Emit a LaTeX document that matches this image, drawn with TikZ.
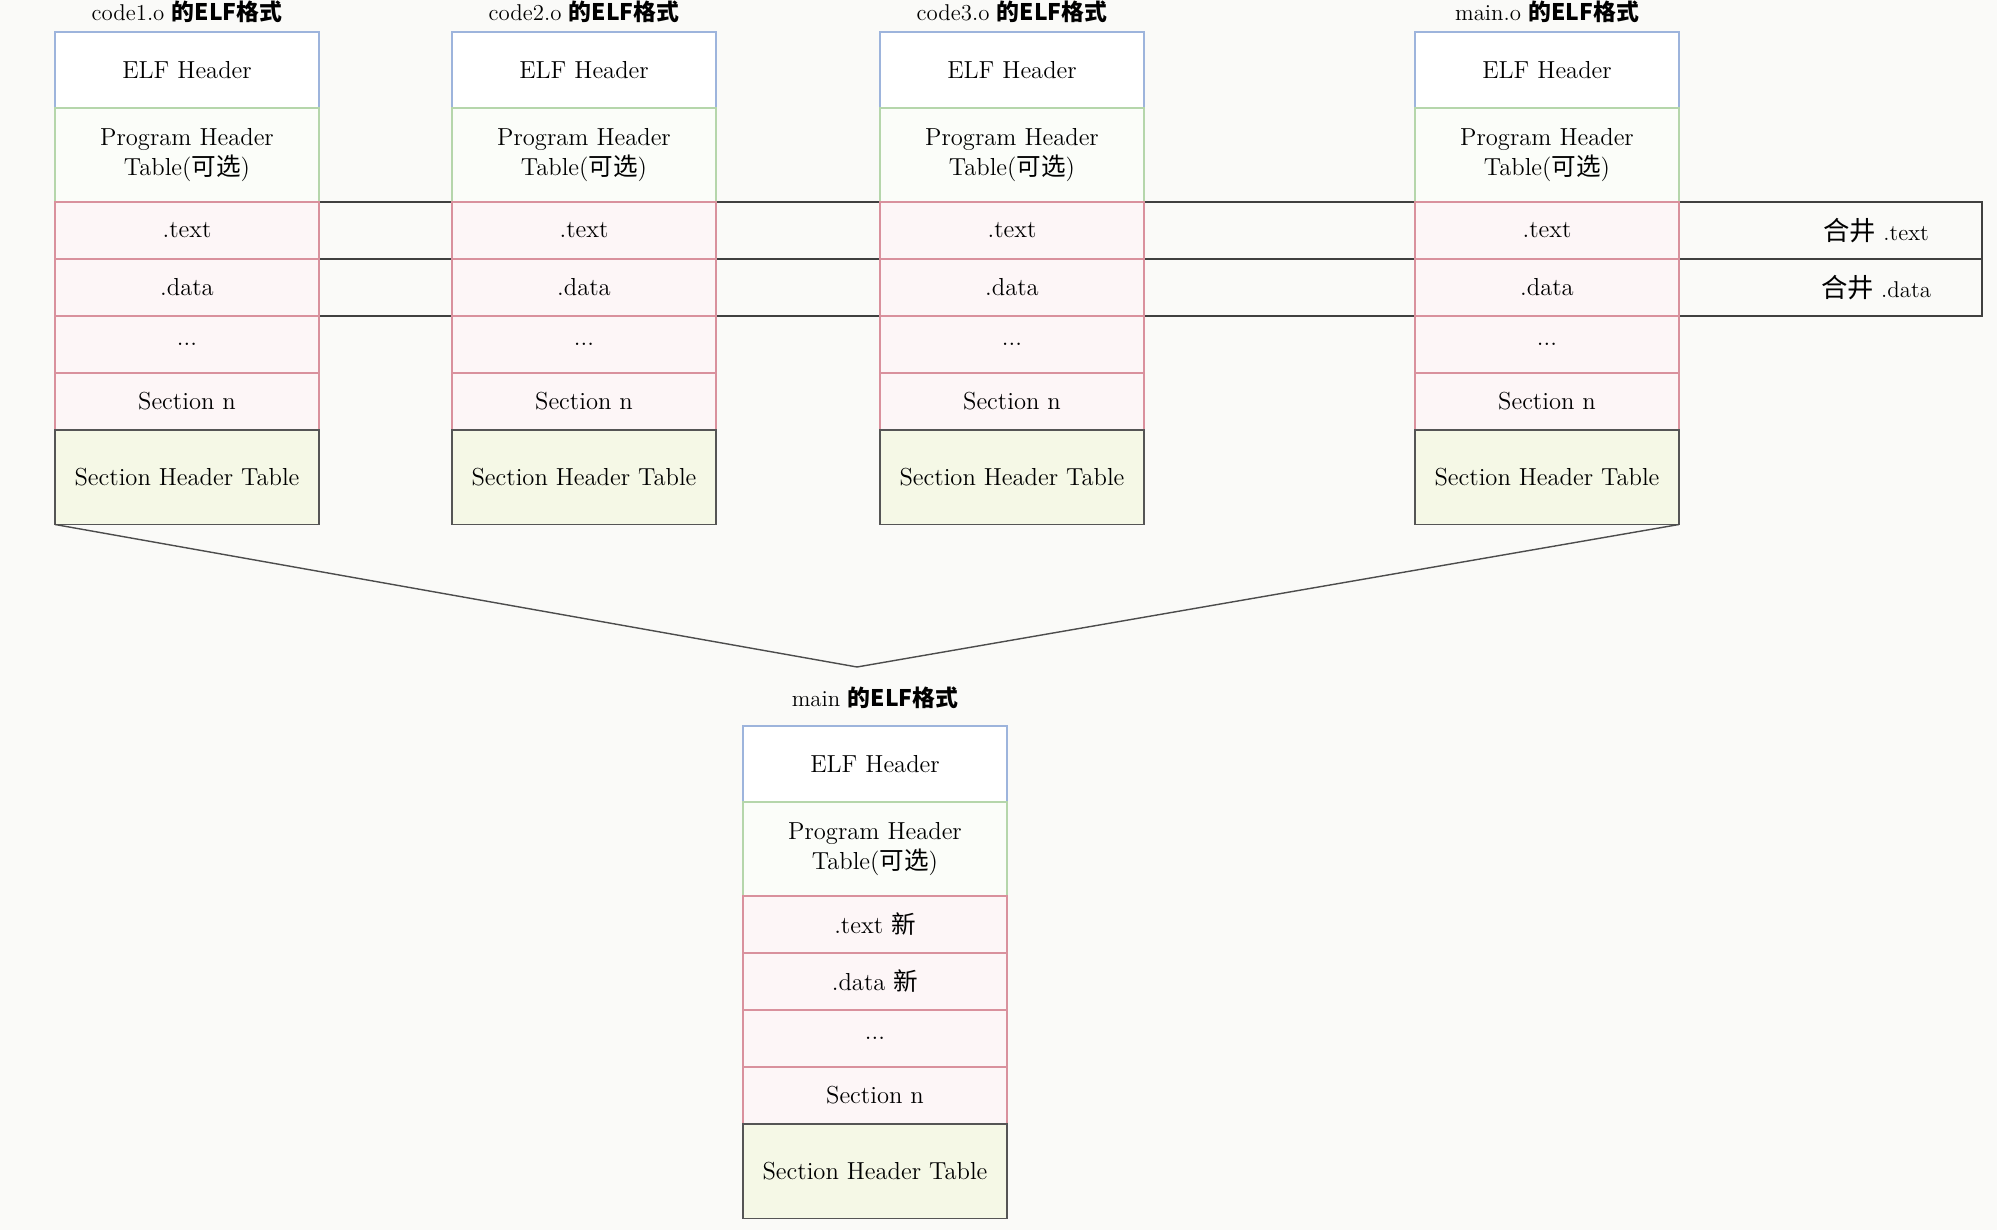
\documentclass[tikz,border=0pt]{standalone}
\usepackage{fontspec}
\newfontfamily\cjk{Noto Sans CJK SC}
\usetikzlibrary{positioning,backgrounds}

\definecolor{bgpaper}{HTML}{FAFAF8}
\definecolor{elfblue}{HTML}{9DB4DC}
\definecolor{phtgreen}{HTML}{B5D6AB}
\definecolor{phtfill}{HTML}{FBFDF9}
\definecolor{secred}{HTML}{D9919D}
\definecolor{secfill}{HTML}{FDF6F7}
\definecolor{shtgray}{HTML}{555555}
\definecolor{shtfill}{HTML}{F5F8E6}

\begin{document}
\begin{tikzpicture}[
        node distance=0pt,
        seg/.style={rectangle, draw, line width=0.6pt, minimum width=52.8mm, inner sep=1pt, outer sep=0pt, align=center, font=\fontsize{14}{17}\selectfont},
        elfhdr/.style={seg, draw=elfblue, fill=white, minimum height=15.2mm},
        phdr/.style={seg, draw=phtgreen, fill=phtfill, minimum height=18.8mm},
        sect/.style={seg, draw=secred, fill=secfill, minimum height=11.4mm},
        shdr/.style={seg, draw=shtgray, fill=shtfill, minimum height=18.9mm},
        title/.style={inner sep=0pt, font=\fontsize{13}{16}\selectfont},
        mergebox/.style={draw=black!75, line width=0.8pt},
        mergelabel/.style={inner sep=0pt, font=\fontsize{13}{15}\selectfont},
        vline/.style={draw=black!70, line width=0.8pt}
    ]
        \begin{scope}[on background layer]
            \fill[bgpaper] (0,0) rectangle (399.4mm,-246mm);
        \end{scope}
        \useasboundingbox (0,0) rectangle (399.4mm,-246mm);

        % code1.o
        \node[elfhdr, anchor=north] (c1elf) at (37.4mm,-6.4mm) {ELF Header};
        \node[phdr, below=of c1elf] (c1pht) {Program Header\\Table({\cjk 可选})};
        \node[sect, below=of c1pht] (c1text) {.text};
        \node[sect, below=of c1text] (c1data) {.data};
        \node[sect, below=of c1data] (c1dots) {...};
        \node[sect, below=of c1dots] (c1secn) {Section n};
        \node[shdr, below=of c1secn] (c1sht) {Section Header Table};
        \node[title, above=1.8mm of c1elf] (c1title) {code1.o {\cjk\bfseries 的ELF格式}};

        % code2.o
        \node[elfhdr, right=26.6mm of c1elf] (c2elf) {ELF Header};
        \node[phdr, below=of c2elf] (c2pht) {Program Header\\Table({\cjk 可选})};
        \node[sect, below=of c2pht] (c2text) {.text};
        \node[sect, below=of c2text] (c2data) {.data};
        \node[sect, below=of c2data] (c2dots) {...};
        \node[sect, below=of c2dots] (c2secn) {Section n};
        \node[shdr, below=of c2secn] (c2sht) {Section Header Table};
        \node[title, above=1.8mm of c2elf] (c2title) {code2.o {\cjk\bfseries 的ELF格式}};

        % code3.o
        \node[elfhdr, right=32.8mm of c2elf] (c3elf) {ELF Header};
        \node[phdr, below=of c3elf] (c3pht) {Program Header\\Table({\cjk 可选})};
        \node[sect, below=of c3pht] (c3text) {.text};
        \node[sect, below=of c3text] (c3data) {.data};
        \node[sect, below=of c3data] (c3dots) {...};
        \node[sect, below=of c3dots] (c3secn) {Section n};
        \node[shdr, below=of c3secn] (c3sht) {Section Header Table};
        \node[title, above=1.8mm of c3elf] (c3title) {code3.o {\cjk\bfseries 的ELF格式}};

        % main.o
        \node[elfhdr, right=54.2mm of c3elf] (c4elf) {ELF Header};
        \node[phdr, below=of c4elf] (c4pht) {Program Header\\Table({\cjk 可选})};
        \node[sect, below=of c4pht] (c4text) {.text};
        \node[sect, below=of c4text] (c4data) {.data};
        \node[sect, below=of c4data] (c4dots) {...};
        \node[sect, below=of c4dots] (c4secn) {Section n};
        \node[shdr, below=of c4secn] (c4sht) {Section Header Table};
        \node[title, above=1.8mm of c4elf] (c4title) {main.o {\cjk\bfseries 的ELF格式}};

        % linked main
        \node[elfhdr, anchor=north] (mnelf) at (175mm,-145.2mm) {ELF Header};
        \node[phdr, below=of mnelf] (mnpht) {Program Header\\Table({\cjk 可选})};
        \node[sect, below=of mnpht] (mntext) {.text {\cjk 新}};
        \node[sect, below=of mntext] (mndata) {.data {\cjk 新}};
        \node[sect, below=of mndata] (mndots) {...};
        \node[sect, below=of mndots] (mnsecn) {Section n};
        \node[shdr, below=of mnsecn] (mnsht) {Section Header Table};
        \node[title, above=3.4mm of mnelf] (mntitle) {main {\cjk\bfseries 的ELF格式}};

        % merged rows
        \coordinate (mright) at (396.4mm,0);
        \coordinate (mlab) at (375.2mm,0);
        \begin{scope}[on background layer]
            \draw[mergebox] (c1text.north west) rectangle (mright |- c1text.south);
            \draw[mergebox] (c1data.north west) rectangle (mright |- c1data.south);
        \end{scope}
        \node[mergelabel] (mtext) at (mlab |- c1text) {{\cjk\fontsize{15}{18}\selectfont 合井} .text};
        \node[mergelabel] (mdata) at (mlab |- c1data) {{\cjk\fontsize{15}{18}\selectfont 合井} .data};

        % link lines
        \coordinate (apex) at (171.4mm,-133.4mm);
        \draw[vline] (c1sht.south west) -- (apex) -- (c4sht.south east);
    \end{tikzpicture}
\end{document}
